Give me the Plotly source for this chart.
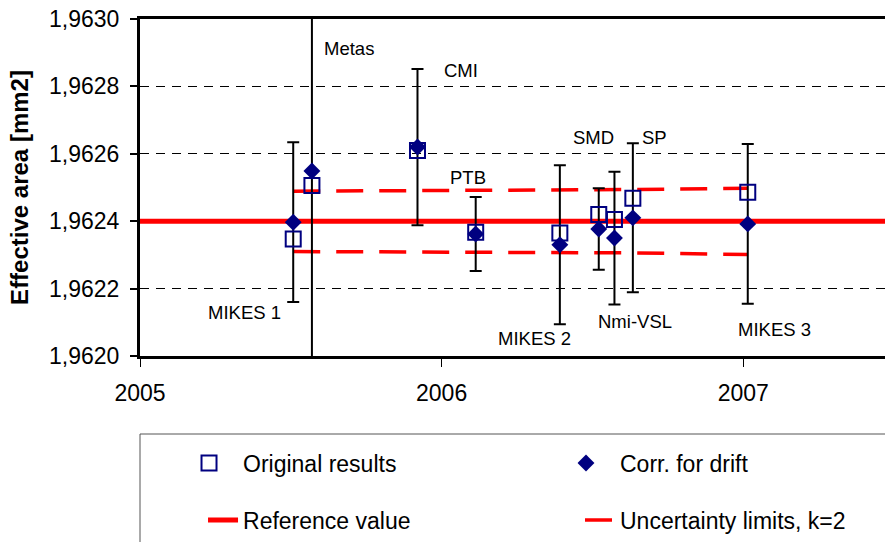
import plotly.graph_objects as go

# measurement dates (decimal years) and labs
labs = ["MIKES 1", "Metas", "CMI", "PTB", "MIKES 2", "SMD", "Nmi-VSL", "SP", "MIKES 3"]
dates = [2005.508, 2005.570, 2005.920, 2006.113, 2006.392, 2006.521, 2006.573, 2006.634, 2007.015]

original = [1.962347, 1.962506, 1.962610, 1.962367, 1.962365, 1.962420, 1.962405, 1.962468, 1.962486]
corrected = [1.962397, 1.962549, 1.962620, 1.962362, 1.962330, 1.962377, 1.962350, 1.962410, 1.962392]
unc_k2 = [0.000237, 0.000573, 0.000232, 0.000110, 0.000236, 0.000121, 0.000197, 0.000221, 0.000237]

ref_value = 1.9624
ref_x = [2005, 2008]
lim_x = [2005.508, 2006.392, 2006.634, 2007.015]
lim_upper = [1.962489, 1.962491, 1.962494, 1.962498]
lim_lower = [1.962310, 1.962308, 1.962306, 1.962301]

# label offsets from the corrected point, in px
lab_dx = [-49, 37, 44, -8, -25, -5, 21, 22, 27]
lab_dy = [-90, 122, 77, 57, -94, 91, -83, 80, -106]

navy = "#000080"
red = "#ff0000"
FONT = "Arial, Liberation Sans, sans-serif"

metas = labs.index("Metas")
err_main = [0 if i == metas else u for i, u in enumerate(unc_k2)]

fig = go.Figure()

fig.add_trace(go.Scatter(
    x=ref_x, y=[ref_value] * len(ref_x), mode="lines", name="Reference value",
    line=dict(color=red, width=5), legend="legend3"))

fig.add_trace(go.Scatter(
    x=lim_x, y=lim_upper, mode="lines", name="Uncertainty limits, k=2",
    line=dict(color=red, width=3.5, dash="27px,16px"), legend="legend4"))
fig.add_trace(go.Scatter(
    x=lim_x, y=lim_lower, mode="lines", showlegend=False,
    line=dict(color=red, width=3.5, dash="27px,16px")))

# Metas uncertainty runs off the chart
fig.add_trace(go.Scatter(
    x=[dates[metas]], y=[corrected[metas]], mode="markers", showlegend=False,
    marker=dict(size=1, opacity=0), cliponaxis=False,
    error_y=dict(type="data", array=[unc_k2[metas]], color="black", thickness=2, width=0)))

fig.add_trace(go.Scatter(
    x=dates, y=corrected, mode="markers", name="Corr. for drift",
    marker=dict(symbol="diamond", size=13, color=navy),
    error_y=dict(type="data", array=err_main, color="black", thickness=2, width=6),
    legend="legend2"))

fig.add_trace(go.Scatter(
    x=dates, y=original, mode="markers", name="Original results",
    marker=dict(symbol="square-open", size=15, color=navy, line=dict(width=2, color=navy)),
    legend="legend"))

for lab, x, y, dx, dy in zip(labs, dates, corrected, lab_dx, lab_dy):
    fig.add_annotation(x=x, y=y, text=lab, showarrow=False, xshift=dx, yshift=dy,
                       font=dict(family=FONT, size=18.5, color="black"))

# legend frame
fig.add_shape(type="rect", xref="paper", yref="paper", x0=0, x1=1.05, y0=-0.8, y1=-0.2315,
              line=dict(color="#555555", width=1), fillcolor="rgba(0,0,0,0)")

leg = dict(yanchor="middle", xanchor="left", bgcolor="rgba(0,0,0,0)", borderwidth=0,
           font=dict(family=FONT, size=23, color="black"))
fig.update_layout(
    legend=dict(leg, x=0.047, y=-0.3175, itemwidth=58),
    legend2=dict(leg, x=0.553, y=-0.3175, itemwidth=58),
    legend3=dict(leg, x=0.0846, y=-0.4866, itemwidth=30),
    legend4=dict(leg, x=0.5906, y=-0.4866, itemwidth=30),
)

fig.update_xaxes(
    range=[2005, 2007.47], tickvals=[2005, 2006, 2007], ticktext=["2005", "2006", "2007"],
    showgrid=False, zeroline=False, showline=True, linecolor="black", linewidth=3, mirror=True,
    ticks="outside", ticklen=8, tickwidth=1, tickcolor="black", ticklabelstandoff=6,
    automargin=False, ticklabeloverflow="allow", tickfont=dict(family=FONT, size=23, color="black"))
fig.update_yaxes(
    range=[1.9620, 1.9630], dtick=0.0002, tickformat=".4f",
    showgrid=True, gridcolor="black", gridwidth=1, griddash="9px,7px",
    zeroline=False, showline=True, linecolor="black", linewidth=3, mirror=False,
    ticks="outside", ticklen=7, tickwidth=1.5, tickcolor="black", ticklabelstandoff=6,
    automargin=False, ticklabeloverflow="allow", tickfont=dict(family=FONT, size=23, color="black"),
    title=dict(text="<b>Effective area [mm2]</b>", standoff=14,
               font=dict(family=FONT, size=24, color="black")))

fig.update_layout(
    width=885, height=542, separators=", ",
    margin=dict(l=140, r=0, t=19, b=186),
    paper_bgcolor="white", plot_bgcolor="white",
    font=dict(family=FONT, color="black"),
)

# drop the default 8px page margin so the figure fills the window
fig.write_html("out.html", config={"displayModeBar": False},
               post_script="document.body.style.margin='0';")
